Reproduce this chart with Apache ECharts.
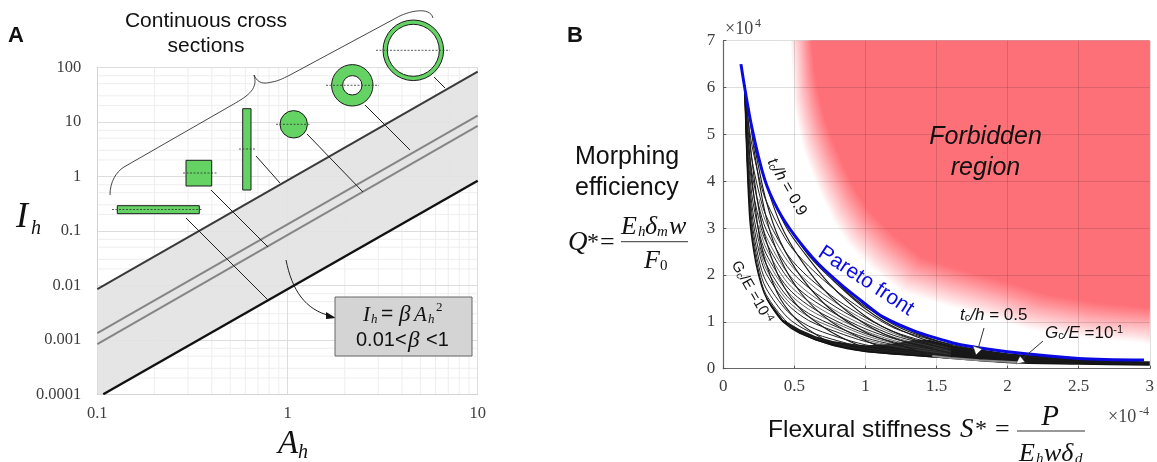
<!DOCTYPE html>
<html><head><meta charset="utf-8">
<style>html,body{margin:0;padding:0;background:#fff}#c{width:1157px;height:462px}</style>
<script src="https://cdn.jsdelivr.net/npm/echarts@6/dist/echarts.min.js"></script>
</head><body><div id="c"></div>
<script>
// ---------- Panel A data (log-log, A_h vs I_h)
const bandUpperA=[0.1,10];      const bandUpperI=[0.0085,83];
const bandLowerA=[0.1075,10];   const bandLowerI=[0.0001,0.83];
const midUpperA=[0.1,10];       const midUpperI=[0.00132,13];
const midLowerA=[0.1,10];       const midLowerI=[0.00083,8.45];
const minorA=[0.2,0.3,0.4,0.5,0.6,0.7,0.8,0.9,2,3,4,5,6,7,8,9];
const minorI=[0.0002,0.0003,0.0005,0.0007,0.002,0.003,0.005,0.007,0.02,0.03,0.05,0.07,0.2,0.3,0.5,0.7,2,3,5,7,20,30,50,70];

// ---------- Panel B data (S* x1e-4, Q* x1e4)
const paretoS=[0.124,0.2,0.292,0.385,0.5,0.665,0.85,1.0,1.12,1.355,1.586,1.68,2.0,2.5,2.96];
const paretoQ=[6.5,5.16,4.03,3.39,2.85,2.25,1.74,1.38,1.11,0.79,0.576,0.505,0.36,0.22,0.186];
const lowS=[0.15,0.165,0.187,0.215,0.245,0.29,0.34,0.42,0.537,0.77,1.0,1.236,1.49,2.0,2.5,3.0];
const lowQ=[6.05,4.6,3.17,2.5,2.04,1.6,1.32,1.0,0.76,0.5,0.37,0.31,0.25,0.13,0.1,0.08];
// curves of one family (nearly parallel to the lower envelope)
const famS=[0.15,0.17,0.2,0.25,0.3,0.45,0.6,0.8,1.0,1.2,1.4,1.6];
const famQ1=[6.05,4.29,2.92,2.06,1.59,0.99,0.7,0.53,0.4,0.34,0.28,0.24];
const famQ2=[6.05,4.36,3.03,2.18,1.72,1.1,0.8,0.6,0.45,0.37,0.31,0.26];
const famQ3=[6.05,4.45,3.17,2.33,1.87,1.23,0.91,0.68,0.51,0.41,0.34,0.28];
const famQ4=[6.05,4.54,3.34,2.51,2.04,1.38,1.03,0.78,0.58,0.46,0.37,0.3];
const famQ5=[6.05,4.66,3.52,2.71,2.24,1.54,1.18,0.89,0.66,0.51,0.41,0.33];
const famQ6=[6.05,4.78,3.73,2.94,2.46,1.74,1.35,1.01,0.75,0.57,0.45,0.36];
const famQ7=[6.05,4.92,3.96,3.19,2.71,1.95,1.53,1.15,0.85,0.64,0.5,0.39];
const famQ8=[6.05,5.08,4.21,3.47,2.98,2.18,1.73,1.3,0.97,0.71,0.55,0.42];
const famQ9=[6.05,5.24,4.49,3.77,3.27,2.44,1.95,1.47,1.09,0.79,0.6,0.46];
const famQ10=[6.05,5.43,4.79,4.1,3.59,2.71,2.19,1.65,1.22,0.87,0.67,0.51];
// fainter strands of the same family, visible from about S=0.25 on
const strandS=[0.25,0.3,0.45,0.6,0.8,1.0,1.2,1.4,1.6];
const strandQ1=[2.61,2.14,1.46,1.11,0.84,0.62,0.485,0.39,0.31];
const strandQ2=[2.84,2.36,1.65,1.27,0.96,0.71,0.54,0.43,0.34];
const strandQ3=[3.06,2.58,1.84,1.44,1.08,0.8,0.6,0.47,0.37];
const strandQ4=[3.32,2.83,2.05,1.62,1.22,0.91,0.67,0.52,0.4];
const strandQ5=[3.62,3.13,2.31,1.84,1.39,1.03,0.75,0.57,0.44];
// curves of the crossing family
const crossS1=[0.15,0.17,0.2,0.25,0.3,0.4,0.55,0.75];        const crossQ1=[6.05,5.1,4.1,2.9,2.25,1.5,0.95,0.55];
const crossS2=[0.16,0.2,0.25,0.3,0.4,0.55,0.75,0.95];        const crossQ2=[5.85,4.5,3.4,2.75,1.9,1.25,0.8,0.5];
const crossS3=[0.18,0.22,0.3,0.4,0.55,0.75,1.0,1.15];        const crossQ3=[5.55,4.6,3.25,2.35,1.6,1.02,0.6,0.42];
const crossS4=[0.22,0.3,0.4,0.55,0.75,1.0,1.25,1.4];         const crossQ4=[4.75,3.6,2.72,1.95,1.28,0.78,0.5,0.34];
const crossS5=[0.27,0.4,0.55,0.75,1.0,1.25,1.6];             const crossQ5=[4.25,3.1,2.3,1.55,0.95,0.6,0.33];
const crossS6=[0.35,0.45,0.55,0.75,1.0,1.25,1.6,1.8];        const crossQ6=[3.6,2.98,2.55,1.8,1.12,0.72,0.4,0.28];
const crossS7=[0.5,0.6,0.75,1.0,1.25,1.6,2.0];               const crossQ7=[2.85,2.42,1.95,1.28,0.82,0.45,0.25];
const crossS8=[0.75,0.85,1.0,1.25,1.6,2.0];                  const crossQ8=[2.02,1.7,1.32,0.9,0.5,0.28];
const crossS9=[0.95,1.1,1.3,1.6,2.0,2.4];                    const crossQ9=[1.48,1.12,0.8,0.52,0.3,0.2];
// dense, visually solid part of the mesh
const denseUpperS=[0.3,0.34,0.42,0.537,0.65,0.77,0.9,1.0,1.1,1.2,1.355,1.45,1.6,2.0,2.5,2.96,3.0];
const denseUpperQ=[1.55,1.37,1.05,0.84,0.69,0.59,0.53,0.5,0.51,0.54,0.62,0.62,0.5,0.33,0.2,0.16,0.16];
const denseLowerS=[0.3,0.34,0.42,0.537,0.65,0.77,1.0,1.2,1.5,2.0,2.5,3.0];
const denseLowerQ=[1.5,1.3,1.0,0.75,0.6,0.49,0.35,0.3,0.235,0.13,0.1,0.08];
const greyEdgeS=[1.47,1.6,1.8,2.1];   const greyEdgeQ=[0.27,0.23,0.18,0.13];
// edge of the forbidden region (middle of its soft edge)
const forbidS=[0.54,0.55,0.57,0.6,0.64,0.7,0.77,0.85,0.957,1.12,1.33,1.6,1.94,2.2,2.56,2.8,3.0,3.4];
const forbidQ=[7.6,7,6,5.5,5,4.5,4,3.5,3,2.5,2,1.75,1.47,1.22,1.04,0.97,0.93,0.88];

const zip=(a,b)=>a.map((v,i)=>[v,b[i]]);
const SANS='"Liberation Sans"',SERIF='"Liberation Serif"';

function lineS(x,y,data,color,width,extra){
  return Object.assign({type:'line',xAxisIndex:x,yAxisIndex:y,data,showSymbol:false,symbol:'none',silent:true,
    animation:false,lineStyle:{color,width},z:3},extra||{});
}
const series=[];
// Panel A minor grid
series.push({type:'custom',xAxisIndex:0,yAxisIndex:0,silent:true,animation:false,z:-1,data:[[1,1]],
  renderItem(p,api){
    const ch=[];const st={stroke:'#eeeeee',lineWidth:1};
    minorA.forEach(a=>{const s=api.coord([a,0.0001]),e=api.coord([a,100]);ch.push({type:'line',shape:{x1:s[0],y1:s[1],x2:e[0],y2:e[1]},style:st});});
    minorI.forEach(i=>{const s=api.coord([0.1,i]),e=api.coord([10,i]);ch.push({type:'line',shape:{x1:s[0],y1:s[1],x2:e[0],y2:e[1]},style:st});});
    return {type:'group',children:ch};
  }});
// Panel A band
series.push({type:'custom',xAxisIndex:0,yAxisIndex:0,silent:true,animation:false,z:1,data:[[1,1]],
  renderItem(p,api){
    const pts=[api.coord([bandUpperA[0],bandUpperI[0]]),api.coord([bandUpperA[1],bandUpperI[1]]),
      api.coord([bandLowerA[1],bandLowerI[1]]),api.coord([bandLowerA[0],bandLowerI[0]]),api.coord([bandUpperA[0],bandLowerI[0]])];
    return {type:'polygon',shape:{points:pts},style:{fill:'rgba(226,226,226,0.9)'}};
  }});
series.push(lineS(0,0,zip(bandUpperA,bandUpperI),'#3a3a3a',2));
series.push(lineS(0,0,zip(bandLowerA,bandLowerI),'#111',2.4));
series.push(lineS(0,0,zip(midUpperA,midUpperI),'#858585',2));
series.push(lineS(0,0,zip(midLowerA,midLowerI),'#858585',2));
// Panel B forbidden region
series.push({type:'custom',xAxisIndex:1,yAxisIndex:1,silent:true,animation:false,z:-1,data:[[1,1]],
  renderItem(p,api){
    const r=p.coordSys,N=24,ch=[];
    const base=forbidS.map((s,i)=>api.coord([s,forbidQ[i]]));
    for(let i=0;i<N;i++){
      const u=1-2*i/(N-1),dx=10*u,dy=17*u;
      const pts=base.map(b=>[Math.min(r.x+r.width,Math.max(r.x,b[0]-dx)),Math.min(r.y+r.height,Math.max(r.y,b[1]+dy))]);
      pts.push([r.x+r.width,r.y]);
      ch.push({type:'polygon',shape:{points:pts},style:{fill:'rgb(254,112,120)',opacity:1/(N-i)}});
    }
    return {type:'group',children:ch};
  }});
// Panel B mesh
[famQ1,famQ2,famQ3,famQ4,famQ5,famQ6,famQ7,famQ8,famQ9,famQ10].forEach(q=>
  series.push(lineS(1,1,zip(famS,q),'#222',1,{smooth:0.3})));
[strandQ1,strandQ2,strandQ3,strandQ4,strandQ5].forEach(q=>
  series.push(lineS(1,1,zip(strandS,q),'#444',0.8,{smooth:0.3})));
[[crossS1,crossQ1],[crossS2,crossQ2],[crossS3,crossQ3],[crossS4,crossQ4],[crossS5,crossQ5],[crossS6,crossQ6],[crossS7,crossQ7],[crossS8,crossQ8],[crossS9,crossQ9]].forEach(c=>
  series.push(lineS(1,1,zip(c[0],c[1]),'#1a1a1a',1.1,{smooth:0.3})));
series.push(lineS(1,1,zip(lowS,lowQ),'#111',1.4,{smooth:0.3}));
series.push({type:'custom',xAxisIndex:1,yAxisIndex:1,silent:true,animation:false,z:3,data:[[1,1]],
  renderItem(p,api){
    const up=denseUpperS.map((s,i)=>api.coord([s,denseUpperQ[i]]));
    const lo=denseLowerS.map((s,i)=>api.coord([s,denseLowerQ[i]])).reverse();
    return {type:'polygon',shape:{points:up.concat(lo)},style:{fill:'#050505',opacity:0.93}};
  }});
series.push(lineS(1,1,zip(greyEdgeS,greyEdgeQ),'#8a8a8a',2,{z:4}));
series.push(lineS(1,1,zip(paretoS,paretoQ),'#0a0ae0',3,{smooth:0.3,z:5}));

// ---------- Annotations
const T=(x,y,text,font,o={})=>({type:'text',x,y,rotation:o.rot||0,z:20,silent:true,
  style:{text,font,fill:o.fill||'#111',align:o.align||'left',verticalAlign:'middle',rich:o.rich}});
const L=(x1,y1,x2,y2,o={})=>({type:'line',z:o.z||12,silent:true,shape:{x1,y1,x2,y2},
  style:{stroke:o.c||'#222',lineWidth:o.w||1,lineDash:o.dash}});
const C=(x1,y1,cx1,cy1,cx2,cy2,x2,y2,c,w)=>({type:'bezierCurve',z:12,silent:true,
  shape:{x1,y1,cpx1:cx1,cpy1:cy1,cpx2:cx2,cpy2:cy2,x2,y2},style:{fill:'none',stroke:c,lineWidth:w}});
const G='#64d364',K='#1c1c1c';
const dash=(x1,y1,x2,y2)=>L(x1,y1,x2,y2,{c:'#333',w:0.8,dash:[2,1.5],z:14});
const it=(s)=>`italic ${s}px ${SERIF}`, se=(s)=>`${s}px ${SERIF}`, sa=(s)=>`${s}px ${SANS}`;
const rich=(s)=>({n:{font:sa(s),fill:'#111'},i:{font:`italic ${s}px ${SANS}`,fill:'#111'},
  sb:{font:sa(s*0.65),fill:'#111',verticalAlign:'bottom',padding:[6,0,0,0]},
  sp:{font:sa(s*0.65),fill:'#111',verticalAlign:'top',padding:[0,0,6,0]}});
const shapes=[
  // section icons
  {type:'rect',z:11,silent:true,shape:{x:117.3,y:205.7,width:82,height:8},style:{fill:G,stroke:K,lineWidth:1}},
  {type:'rect',z:11,silent:true,shape:{x:186,y:160.3,width:25.7,height:25.7},style:{fill:G,stroke:K,lineWidth:1}},
  {type:'rect',z:11,silent:true,shape:{x:242.7,y:108.7,width:8.3,height:81.3},style:{fill:G,stroke:K,lineWidth:1}},
  {type:'circle',z:11,silent:true,shape:{cx:293.7,cy:124.3,r:13.7},style:{fill:G,stroke:K,lineWidth:1}},
  {type:'ring',z:11,silent:true,shape:{cx:352.3,cy:85.3,r:20.7,r0:9.7},style:{fill:G,stroke:K,lineWidth:1}},
  {type:'ring',z:11,silent:true,shape:{cx:413.3,cy:50.3,r:30.3,r0:26},style:{fill:G,stroke:K,lineWidth:1}},
  dash(112,209.5,203,209.5),dash(183,173,217,173),dash(239,149,255,149),dash(276,124.3,310,124.3),dash(326,85.3,379,85.3),dash(376,50.3,450,50.3),
  // leader lines
  L(186,218,268,300),L(211,190,268,247),L(256,156,280,183),L(307,134,363,192),L(365,105,410,150),L(434,77,445,88),
  // brace
  C(110,195,110,182,116,172,124,167,'#333',0.9),L(124,167,232,105,{c:'#333',w:0.9}),C(232,105,250,95,258,88,254,75,'#333',0.9),
  C(254,75,258,84,264,84,272,82,'#333',0.9),C(272,82,278,81,282,79,290,75,'#333',0.9),L(290,75,396,18,{c:'#333',w:0.9}),C(396,18,408,11,430,6,433,18,'#333',0.9),
  // formula box and arrow
  C(286,260,292,290,305,310,331,316,'#222',1),
  {type:'polygon',z:12,silent:true,shape:{points:[[326,312],[336,318],[326,319]]},style:{fill:'#111'}},
  {type:'rect',z:12,silent:true,shape:{x:335,y:297,width:137,height:59},style:{fill:'#d4d4d4',stroke:'#666',lineWidth:1}},
  // fraction bars
  L(621,241.7,688,241.7,{c:'#333'}),L(1017,431,1085,431,{c:'#333'}),
  // arrows to the mesh
  L(984,328,978,349,{c:'#333'}),{type:'polygon',z:13,silent:true,shape:{points:[[973,346],[982,349],[976,355]]},style:{fill:'#fff',stroke:'#222',lineWidth:0.5}},
  L(1043,341,1021,360,{c:'#333'}),{type:'polygon',z:13,silent:true,shape:{points:[[1020,356],[1025,362],[1016,364]]},style:{fill:'#fff',stroke:'#222',lineWidth:0.5}}
];
const texts=[
  T(8,35.5,'A',`bold 22px ${SANS}`),T(567,35.5,'B',`bold 22px ${SANS}`),
  T(206,21,'Continuous cross',sa(21),{align:'center'}),T(206,46,'sections',sa(21),{align:'center'}),
  T(16,218,'I',it(36)),T(31,229,'h',it(20)),
  T(278,444,'A',it(33)),T(298,453,'h',it(20)),
  // box
  T(363,315,'I',it(21)),T(371,320,'h',it(13)),T(381,314,'=',sa(21)),T(399,315,'β',it(23)),T(414,315,'A',it(21)),T(428,320,'h',it(13)),T(436,308,'2',se(13)),
  T(356,340,'0.01<',sa(20)),T(408,341,'β',it(23)),T(426,340,'<1',sa(20)),
  // panel B
  T(985.5,137,'Forbidden',`italic 25px ${SANS}`,{align:'center'}),T(985.5,168,'region',`italic 25px ${SANS}`,{align:'center'}),
  T(866,281,'Pareto front',sa(21),{align:'center',fill:'#0a0ae0',rot:-0.58}),
  T(787,187,'{i|t}{sb|c}{i|/h} {n|= 0.9}',sa(16),{align:'center',rot:-1.05,rich:rich(16)}),
  T(752,292,'{n|G}{sb|c}{n|/E =10}{sp|-4}',sa(15),{align:'center',rot:-1.05,rich:rich(15)}),
  T(960,315,'{i|t}{sb|c}{i|/h} {n|= 0.5}',sa(17),{rich:rich(17)}),
  T(1045,333,'{i|G}{sb|c}{i|/E} {n|=10}{sp|-1}',sa(17),{rich:rich(17)}),
  T(725,29,'×10',se(18),{fill:'#444'}),T(755,24,'4',se(12),{fill:'#444'}),
  T(1108,417,'×10',se(18),{fill:'#444'}),T(1139,412,'-4',se(12),{fill:'#444'}),
  T(768,430,'Flexural stiffness',sa(24.5)),T(960,430,'S',it(27)),T(975,430,'*',se(24)),T(995,430,'=',se(26)),
  T(1050,417,'P',it(29),{align:'center'}),
  T(1019,454,'E',it(26)),T(1036,459,'h',it(15)),T(1044,454,'wδ',it(26)),T(1075,459,'d',it(15)),
  T(575,157,'Morphing',sa(25)),T(575,188,'efficiency',sa(25)),
  T(568,243,'Q',it(27)),T(587,243,'*',se(24)),T(600,243,'=',se(26)),
  T(621,227,'E',it(26)),T(638,232,'h',it(15)),T(645,227,'δ',it(26)),T(657,232,'m',it(15)),T(669,227,'w',it(26)),
  T(644,261,'F',it(26)),T(660,266,'0',se(15))
];

const axisFont={fontFamily:'Liberation Serif',fontSize:16.5,color:'#3d3d3d'};
const option={
  animation:false,backgroundColor:'#fff',
  grid:[{left:97.3,top:67.3,width:380.4,height:327,containLabel:false},
        {left:723.3,top:40.7,width:428.7,height:328,containLabel:false}],
  xAxis:[
   {gridIndex:0,type:'log',logBase:10,min:0.1,max:10,axisTick:{show:false},
    axisLine:{show:true,lineStyle:{color:'#d4d4d4',width:1}},splitLine:{show:true,lineStyle:{color:'#dddddd',width:1}},
    axisLabel:Object.assign({margin:11,showMaxLabel:true,showMinLabel:true,formatter:v=>String(+(+v).toPrecision(3))},axisFont)},
   {gridIndex:1,type:'value',min:0,max:3,interval:0.5,
    axisTick:{show:true,inside:true,length:3,lineStyle:{color:'#555'}},
    axisLine:{show:true,lineStyle:{color:'#666',width:1.2}},splitLine:{show:true,lineStyle:{color:'rgba(0,0,0,0.13)',width:1}},
    axisLabel:Object.assign({},axisFont,{margin:9,fontSize:17,showMaxLabel:true,showMinLabel:true})}
  ],
  yAxis:[
   {gridIndex:0,type:'log',logBase:10,min:0.0001,max:100,axisTick:{show:false},
    axisLine:{show:true,lineStyle:{color:'#d4d4d4',width:1}},splitLine:{show:true,lineStyle:{color:'#dddddd',width:1}},
    axisLabel:Object.assign({margin:16,showMaxLabel:true,showMinLabel:true,formatter:v=>String(+(+v).toPrecision(3))},axisFont)},
   {gridIndex:1,type:'value',min:0,max:7,interval:1,
    axisTick:{show:true,inside:true,length:3,lineStyle:{color:'#555'}},
    axisLine:{show:true,lineStyle:{color:'#666',width:1.2}},splitLine:{show:true,lineStyle:{color:'rgba(0,0,0,0.13)',width:1}},
    axisLabel:Object.assign({},axisFont,{margin:8,fontSize:17,showMaxLabel:true,showMinLabel:true})}
  ],
  series,
  graphic:{elements:shapes.concat(texts)}
};
echarts.init(document.getElementById('c'),null,{renderer:'canvas'}).setOption(option);
</script></body></html>
